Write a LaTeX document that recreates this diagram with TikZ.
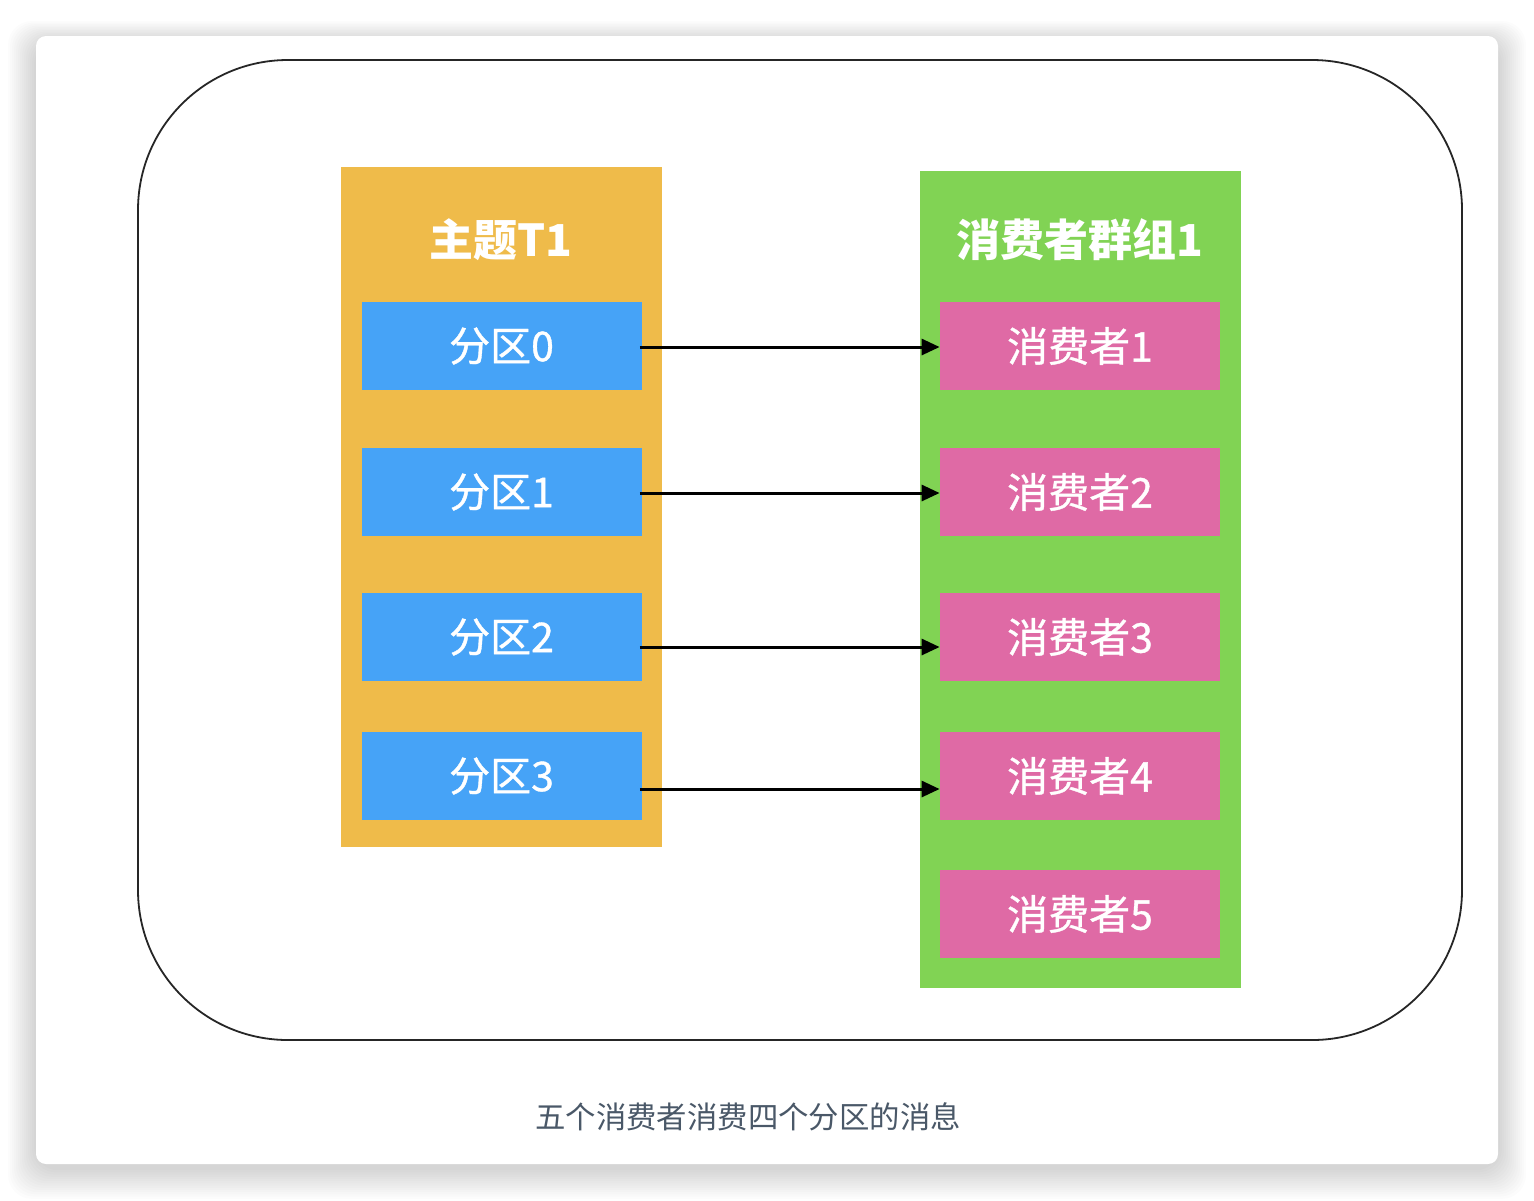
\documentclass[tikz,border=0pt]{standalone}
\usepackage{fontspec}
\newfontfamily\cjk{Noto Sans CJK SC}
\newfontfamily\cjkm[FakeBold=0.9]{Noto Sans CJK SC}
\usetikzlibrary{arrows.meta}
\definecolor{topicC}{HTML}{EFBB4A}
\definecolor{groupC}{HTML}{81D354}
\definecolor{partC}{HTML}{46A3F7}
\definecolor{consC}{HTML}{DF6AA5}
\definecolor{capC}{HTML}{4A5868}
\tikzset{
  partbox/.style={fill=partC, minimum width=140pt, minimum height=44pt, inner sep=0pt, text=white, font=\cjkm\fontsize{20.5}{24}\selectfont},
  consbox/.style={fill=consC, minimum width=140pt, minimum height=44pt, inner sep=0pt, text=white, font=\cjkm\fontsize{20.5}{24}\selectfont},
  titletext/.style={text=white, font=\cjk\bfseries\fontsize{22}{26}\selectfont, inner sep=0pt},
  link/.style={line width=1.5pt, -{Triangle[length=9pt, width=8pt]}},
}
\begin{document}
\begin{tikzpicture}[x=0.5pt, y=-0.5pt]
\useasboundingbox (0,0) rectangle (1534,1200);
\fill[white] (0,0) rectangle (1534,1200);
% shadow
\foreach \i in {1,...,14}{
  \fill[black, opacity=0.011, rounded corners=12pt]
    (36-2*\i, 36-1.5*\i+6) rectangle (1498+2*\i, 1164+2.2*\i+4);
}
\fill[white, rounded corners=5pt] (36,36) rectangle (1498,1164);
% outer rounded frame
\draw[line width=0.9pt, draw=black!85, rounded corners=75pt] (138,60) rectangle (1462,1040);
% containers
\fill[topicC] (341,167) rectangle (662,847);
\fill[groupC] (920,171) rectangle (1241,988);
\node[titletext] (t1) at (501,240) {主题T1};
\node[titletext] (g1) at (1080,240) {消费者群组1};
% partitions
\node[partbox] (p0) at (501.5,346) {分区0};
\node[partbox] (p1) at (501.5,492) {分区1};
\node[partbox] (p2) at (501.5,637) {分区2};
\node[partbox] (p3) at (501.5,776) {分区3};
% consumers
\node[consbox] (c1) at (1080,346) {消费者1};
\node[consbox] (c2) at (1080,492) {消费者2};
\node[consbox] (c3) at (1080,637) {消费者3};
\node[consbox] (c4) at (1080,776) {消费者4};
\node[consbox] (c5) at (1080,914) {消费者5};
% arrows
\draw[link] ([xshift=-1pt,yshift=-0.5pt]p0.east) -- ([yshift=-0.5pt]c1.west);
\draw[link] ([xshift=-1pt,yshift=-0.5pt]p1.east) -- ([yshift=-0.5pt]c2.west);
\draw[link] ([xshift=-1pt,yshift=-5pt]p2.east) -- ([yshift=-5pt]c3.west);
\draw[link] ([xshift=-1pt,yshift=-6.5pt]p3.east) -- ([yshift=-6.5pt]c4.west);
% caption
\node[text=capC, font=\cjk\fontsize{15.2}{18}\selectfont, inner sep=0pt] (cap) at (748,1117) {五个消费者消费四个分区的消息};
\end{tikzpicture}
\end{document}
